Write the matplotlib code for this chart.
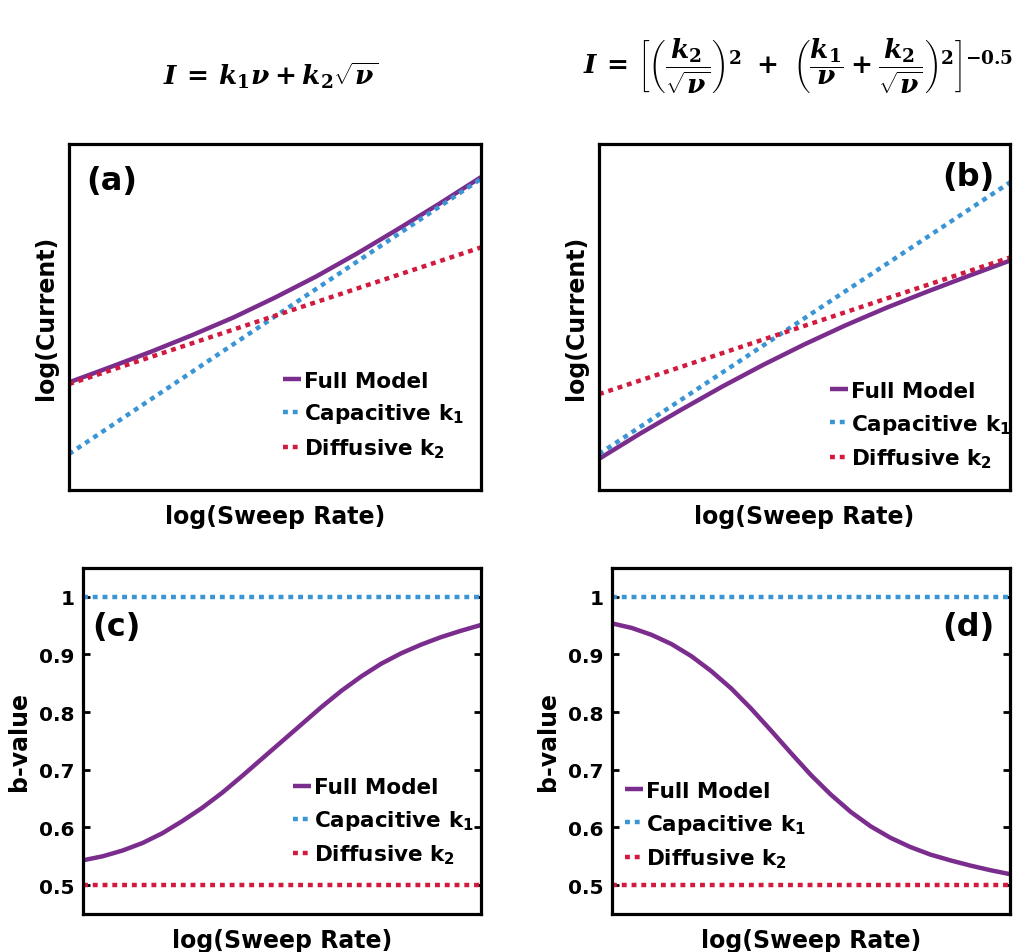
import matplotlib.pyplot as plt

plt.rcParams['font.family'] = ['DejaVu Sans']
plt.rcParams['font.weight'] = 'bold'
plt.rcParams['mathtext.rm'] = 'DejaVu Serif:bold'
plt.rcParams['mathtext.it'] = 'DejaVu Serif:italic:bold'
plt.rcParams['mathtext.bf'] = 'DejaVu Serif:bold'

PURPLE = '#7b2d8e'
BLUE = '#3a95d5'
RED = '#d21a3e'

# log(sweep rate), arbitrary units across the axis
x_ends = [0.0, 1.0]
x_full = [0.0, 0.1, 0.2, 0.3, 0.4, 0.5, 0.6, 0.7, 0.8, 0.9, 1.0]
x_bval = [0.0, 0.05, 0.1, 0.15, 0.2, 0.25, 0.3, 0.35, 0.4, 0.45, 0.5,
          0.55, 0.6, 0.65, 0.7, 0.75, 0.8, 0.85, 0.9, 0.95, 1.0]

# (a) parallel model, log(current) in arbitrary units
cap_a = [0.104, 0.899]
dif_a = [0.306, 0.701]
full_a = [0.311, 0.355, 0.400, 0.448, 0.499, 0.556, 0.617, 0.684, 0.755, 0.828, 0.904]

# (b) series model
cap_b = [0.104, 0.889]
dif_b = [0.277, 0.672]
full_b = [0.090, 0.163, 0.232, 0.299, 0.362, 0.421, 0.476, 0.527, 0.574, 0.619, 0.663]

# b-values
bval_cap = [1.0, 1.0]
bval_dif = [0.5, 0.5]
bval_c = [0.543, 0.550, 0.560, 0.573, 0.590, 0.611, 0.634, 0.660, 0.689, 0.719, 0.749,
          0.779, 0.809, 0.837, 0.862, 0.884, 0.902, 0.917, 0.930, 0.941, 0.951]
bval_d = [0.954, 0.946, 0.934, 0.918, 0.897, 0.871, 0.841, 0.806, 0.768, 0.729, 0.691,
          0.657, 0.627, 0.602, 0.582, 0.566, 0.553, 0.543, 0.534, 0.526, 0.519]

yticks = [0.5, 0.6, 0.7, 0.8, 0.9, 1.0]
yticklabels = ['0.5', '0.6', '0.7', '0.8', '0.9', '1']

labels = ['Full Model', r'Capacitive k$_\mathbf{1}$', r'Diffusive k$_\mathbf{2}$']

fig = plt.figure(figsize=(10.24, 9.53), dpi=100)
ax_a = fig.add_axes([0.0674, 0.4848, 0.4023, 0.3631])
ax_b = fig.add_axes([0.5850, 0.4848, 0.4014, 0.3631])
ax_c = fig.add_axes([0.0808, 0.0399, 0.3887, 0.3631])
ax_d = fig.add_axes([0.5974, 0.0399, 0.3890, 0.3631])


def draw(ax, xf, full, xc, cap, dif):
    ax.plot(xf, full, color=PURPLE, lw=3.2, solid_capstyle='butt',
            solid_joinstyle='round', label=labels[0])
    ax.plot(xc, cap, color=BLUE, lw=3.2, dashes=(1.1, 1.1), dash_capstyle='butt', label=labels[1])
    ax.plot(xc, dif, color=RED, lw=3.2, dashes=(1.1, 1.1), dash_capstyle='butt', label=labels[2])
    ax.set_xlim(0, 1)
    for s in ax.spines.values():
        s.set_linewidth(2.3)
    ax.set_xticks([])
    ax.set_xlabel('log(Sweep Rate)', fontsize=17, fontweight='bold', labelpad=10)


def legend(ax, x, y):
    leg = ax.legend(loc='upper left', bbox_to_anchor=(x, y), frameon=False,
                    fontsize=15.5, handlelength=0.85, handletextpad=0.12,
                    borderpad=0, borderaxespad=0, labelspacing=0.5)
    for t in leg.get_texts():
        t.set_math_fontfamily('dejavusans')
        t.set_fontweight('bold')


draw(ax_a, x_full, full_a, x_ends, cap_a, dif_a)
draw(ax_b, x_full, full_b, x_ends, cap_b, dif_b)
draw(ax_c, x_bval, bval_c, x_ends, bval_cap, bval_dif)
draw(ax_d, x_bval, bval_d, x_ends, bval_cap, bval_dif)

for ax in (ax_a, ax_b):
    ax.set_ylim(0, 1)
    ax.set_yticks([])
    ax.set_ylabel('log(Current)', fontsize=17, fontweight='bold', labelpad=8)

for ax in (ax_c, ax_d):
    ax.set_ylim(0.45, 1.05)
    ax.set_yticks(yticks)
    ax.set_yticklabels(yticklabels, fontsize=14.5, fontweight='bold')
    ax.tick_params(axis='y', direction='in', right=True, length=5, width=2, pad=6)
    ax.set_ylabel('b-value', fontsize=17, fontweight='bold', labelpad=6)

legend(ax_a, 0.519, 0.345)
legend(ax_b, 0.562, 0.315)
legend(ax_c, 0.528, 0.395)
legend(ax_d, 0.033, 0.385)

ax_a.text(0.041, 0.94, '(a)', transform=ax_a.transAxes, fontsize=23, fontweight='bold', va='top', ha='left')
ax_b.text(0.962, 0.95, '(b)', transform=ax_b.transAxes, fontsize=23, fontweight='bold', va='top', ha='right')
ax_c.text(0.025, 0.875, '(c)', transform=ax_c.transAxes, fontsize=23, fontweight='bold', va='top', ha='left')
ax_d.text(0.960, 0.875, '(d)', transform=ax_d.transAxes, fontsize=23, fontweight='bold', va='top', ha='right')

fig.text(0.264, 0.921, r'$I\,=\,k_1\nu + k_2\sqrt{\nu}$', fontsize=19,
         ha='center', va='center', math_fontfamily='custom')
fig.text(0.569, 0.93,
         r'$I\,=\,\left[\left(\dfrac{k_2}{\sqrt{\nu}}\right)^2\ +\ \left(\dfrac{k_1}{\nu}+\dfrac{k_2}{\sqrt{\nu}}\right)^2\right]^{-0.5}$',
         fontsize=19, ha='left', va='center', math_fontfamily='custom')

fig.savefig('out.png', dpi=100)
